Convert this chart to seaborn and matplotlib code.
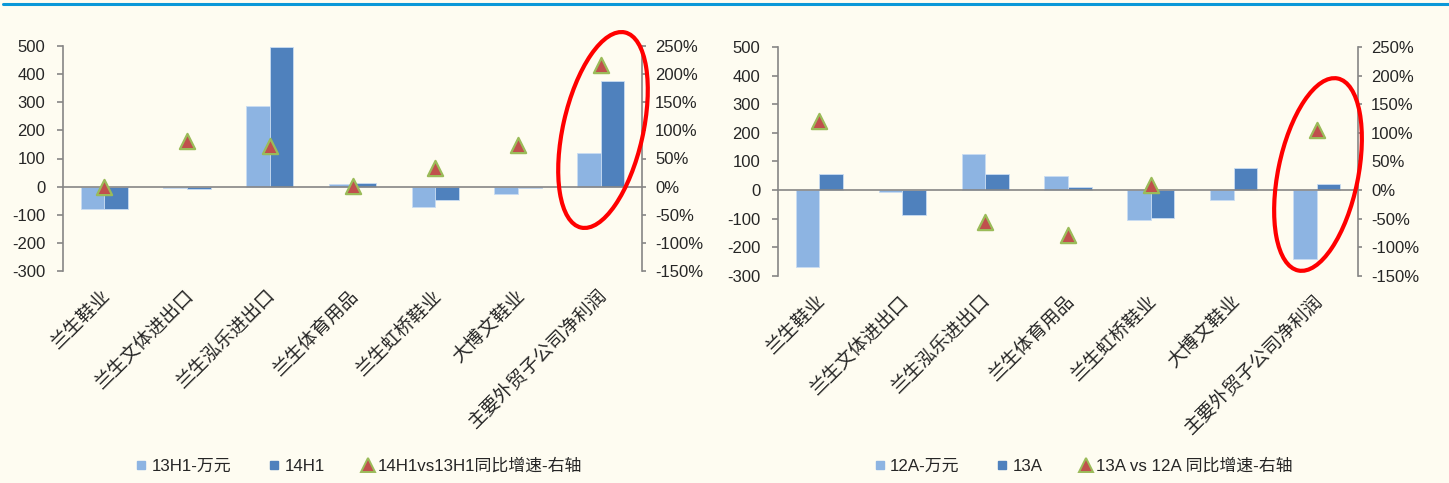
import numpy as np
import pandas as pd
import matplotlib
matplotlib.use("Agg")
import matplotlib.pyplot as plt
from matplotlib.patches import Ellipse
from matplotlib.lines import Line2D
from matplotlib.transforms import IdentityTransform, blended_transform_factory
from matplotlib.ticker import FuncFormatter
import seaborn as sns

# ---------------- data ----------------
categories = ['兰生鞋业', '兰生文体进出口', '兰生泓乐进出口', '兰生体育用品',
              '兰生虹桥鞋业', '大博文鞋业', '主要外贸子公司净利润']

left_series = ['13H1-万元', '14H1']
left_13h1 = [-78, -5, 285, 8, -72, -26, 118]
left_14h1 = [-78, -7, 498, 14, -47, -6, 376]
left_growth = [0, 82, 72, 2, 34, 74, 216]          # %
left_growth_label = '14H1vs13H1同比增速-右轴'

right_series = ['12A-万元', '13A']
right_12a = [-270, -7, 127, 48, -106, -33, -241]
right_13a = [58, -87, 58, 12, -97, 78, 23]
right_growth = [121, np.nan, -55, -79, 9, np.nan, 105]   # %
right_growth_label = '13A vs 12A 同比增速-右轴'

left_ticks = [-300, -200, -100, 0, 100, 200, 300, 400, 500]
right_ticks = [-150, -100, -50, 0, 50, 100, 150, 200, 250]

# ---------------- style ----------------
sns.set_theme(style="white")
plt.rcParams['font.family'] = ['Liberation Sans Narrow', 'Liberation Sans', 'Noto Sans CJK SC', 'DejaVu Sans']
plt.rcParams['axes.unicode_minus'] = False

BG = '#FEFCF1'
LIGHT = '#8DB4E2'
DARK = '#4F81BD'
TRI_FACE = '#C0504D'
TRI_EDGE = '#9BBB59'
SPINE = '#868686'
TXT = '#262626'

W, H = 1449, 483
fig = plt.figure(figsize=(W / 100, H / 100), dpi=100, facecolor=BG)


def px_rect(x0, x1, ytop, ybot):
    return [x0 / W, 1 - ybot / H, (x1 - x0) / W, (ybot - ytop) / H]


def draw_panel(rect, s_names, v1, v2, growth, glabel, legend_x):
    ax = fig.add_axes(rect)
    ax.set_facecolor('none')
    df = pd.DataFrame({
        'cat': categories * 2,
        'series': [s_names[0]] * len(categories) + [s_names[1]] * len(categories),
        'value': list(v1) + list(v2),
    })
    sns.barplot(data=df, x='cat', y='value', hue='series', order=categories,
                hue_order=s_names, palette=[LIGHT, DARK], width=0.57,
                saturation=1, ax=ax, legend=False, edgecolor='#C9DCF2', linewidth=0.6)
    n = len(categories)
    ax.set_xlim(-0.5, n - 0.5)
    ax.set_ylim(left_ticks[0], left_ticks[-1])
    ax.set_yticks(left_ticks)
    ax.set_yticklabels([str(t) for t in left_ticks])
    ax.set_xlabel('')
    ax.set_ylabel('')
    for s in ['top', 'right']:
        ax.spines[s].set_visible(False)
    ax.spines['bottom'].set_position(('data', 0))
    ax.spines['bottom'].set_color(SPINE)
    ax.spines['left'].set_color(SPINE)
    ax.spines['bottom'].set_linewidth(1.2)
    ax.spines['left'].set_linewidth(1.2)
    ax.set_xticks(np.arange(n + 1) - 0.5)
    ax.set_xticklabels([''] * (n + 1))
    ax.tick_params(axis='x', direction='out', length=5, color=SPINE, width=1.2)
    ax.tick_params(axis='y', direction='out', length=4.3, color=SPINE, width=1.2,
                   pad=8.5, labelsize=12, labelcolor=TXT, left=True)
    # category labels
    tr = blended_transform_factory(ax.transData, ax.transAxes)
    for i, c in enumerate(categories):
        ax.text(i + 0.04, -0.095, c, transform=tr, rotation=45, rotation_mode='anchor',
                ha='right', va='center', fontsize=13.5, color=TXT, fontweight='light',
                family=['Noto Sans CJK SC'])
    # right axis growth
    ax2 = ax.twinx()
    ax2.set_facecolor('none')
    sns.scatterplot(x=np.arange(n), y=growth, marker='^', s=120, color=TRI_FACE,
                    edgecolor=TRI_EDGE, linewidth=1.6, ax=ax2, zorder=5, legend=False)
    ax2.set_ylim(right_ticks[0], right_ticks[-1])
    ax2.set_yticks(right_ticks)
    ax2.yaxis.set_major_formatter(FuncFormatter(lambda v, p: f'{int(v)}%'))
    for s in ['top', 'left', 'bottom']:
        ax2.spines[s].set_visible(False)
    ax2.spines['right'].set_color(SPINE)
    ax2.spines['right'].set_linewidth(1.2)
    ax2.tick_params(axis='y', direction='out', length=3, color=SPINE, width=1.2,
                    pad=6.5, labelsize=12, labelcolor=TXT, right=True)
    ax2.set_xlim(-0.5, n - 0.5)
    ax2.grid(False)
    ax.grid(False)
    # legend
    handles = [
        Line2D([], [], ls='none', marker='s', ms=6, mfc=LIGHT, mec=LIGHT),
        Line2D([], [], ls='none', marker='s', ms=6, mfc=DARK, mec=DARK),
        Line2D([], [], ls='none', marker='^', ms=10, mfc=TRI_FACE, mec=TRI_EDGE, mew=1.4),
    ]
    fig.legend(handles, [s_names[0], s_names[1], glabel], loc='center',
               bbox_to_anchor=(legend_x, 1 - 466 / H), ncol=3, frameon=False,
               fontsize=12.2, handlelength=0.7, handletextpad=0.25, columnspacing=2.2,
               labelcolor=TXT)
    return ax, ax2


draw_panel(px_rect(63, 642, 46, 271), left_series, left_13h1, left_14h1,
           left_growth, left_growth_label, 359 / W)
draw_panel(px_rect(778, 1358, 47, 276), right_series, right_12a, right_13a,
           right_growth, right_growth_label, 1083 / W)

# red highlight ellipses (pixel coordinates, origin bottom-left)
for (cx, cy, major, minor, ang) in [(603, 130, 200, 80, -12.7), (1318, 174.5, 196, 80, -11.6)]:
    e = Ellipse((cx, H - cy), minor, major, angle=ang, fill=False,
                edgecolor='#FF0000', linewidth=3.0, transform=IdentityTransform(), zorder=10)
    fig.add_artist(e)

# top blue rule
fig.add_artist(Line2D([3 / W, 1], [1 - 4 / H, 1 - 4 / H], color='#0A98D8', lw=2.2,
                      transform=fig.transFigure))

fig.savefig('out.png', dpi=100, facecolor=BG)
